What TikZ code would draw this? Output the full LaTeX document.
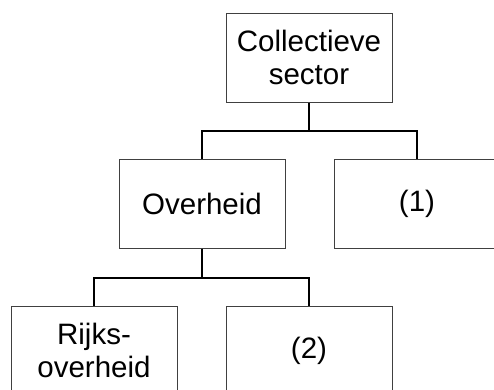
\documentclass[tikz,border=0pt]{standalone}
\usepackage{fontspec}
\setmainfont{Liberation Sans}
\begin{document}
\begin{tikzpicture}[x=1pt,y=-1pt,
  unit/.style={draw=black!75, line width=1pt, minimum width=166pt, minimum height=89pt,
    align=center, inner sep=0pt, font=\fontsize{29.5}{33}\selectfont},
  conn/.style={line width=2pt, black}]
\clip (0,0) rectangle (494,389);
\node(coll) at (309,57.5) [unit]{Collectieve\\sector};
\node(over) at (202,203.5) [unit]{Overheid};
\node(one) at (417,203.5) [unit]{(1)};
\node(rijk) at (94,350.5) [unit]{Rijks-\\overheid};
\node(two) at (309,350.5) [unit]{(2)};

\draw [conn] (coll.south) -- +(0,28) -| (over.north);
\draw [conn] (coll.south) -- +(0,28) -| (one.north);
\draw [conn] (over.south) -- +(0,29) -| (rijk.north);
\draw [conn] (over.south) -- +(0,29) -| (two.north);

\end{tikzpicture}
\end{document}
